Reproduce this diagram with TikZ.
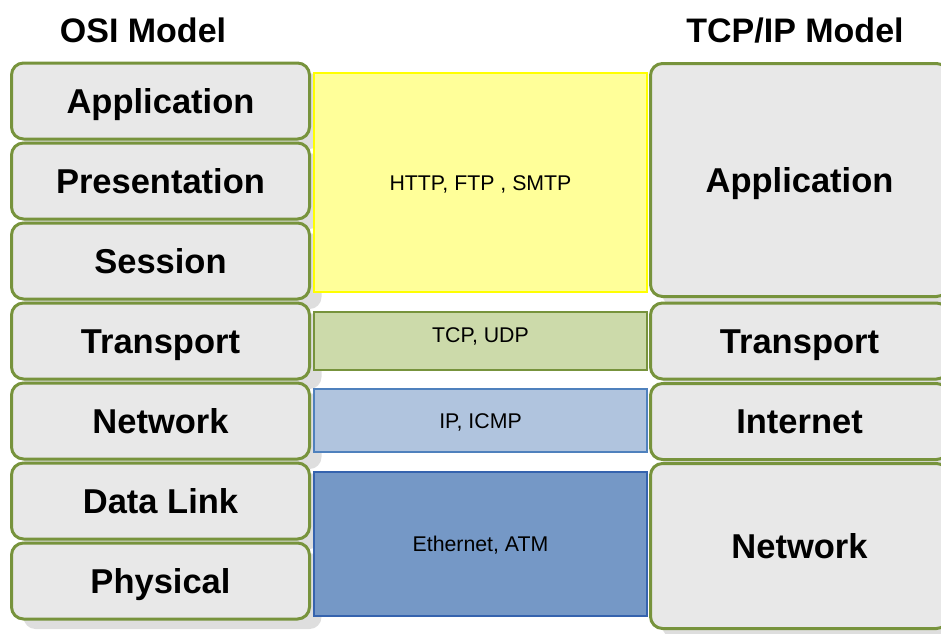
\documentclass[tikz,border=0pt]{standalone}
\usepackage{fontspec}
\setmainfont{Liberation Sans}
\usetikzlibrary{shadows}

\definecolor{layerfill}{HTML}{E8E8E8}
\definecolor{layerline}{HTML}{77933C}
\definecolor{shadowgray}{HTML}{DEDEDE}
\definecolor{httpfill}{HTML}{FFFF99}
\definecolor{httpline}{HTML}{FFFF00}
\definecolor{tcpfill}{HTML}{CCDAAA}
\definecolor{tcpline}{HTML}{77933C}
\definecolor{ipfill}{HTML}{B0C4DE}
\definecolor{ipline}{HTML}{4F81BD}
\definecolor{ethfill}{HTML}{7598C6}
\definecolor{ethline}{HTML}{3563AE}

\tikzset{
  layer/.style={draw=layerline, line width=1.5pt, fill=layerfill, rounded corners=6pt,
    minimum width=149pt, inner sep=0pt, text height=12.4pt, text depth=0pt,
    font=\bfseries\fontsize{17.25}{20}\selectfont},
  layershadow/.style={drop shadow={shadow xshift=6pt, shadow yshift=-5pt, fill=shadowgray, opacity=1}},
  proto/.style={line width=1pt, minimum width=166.5pt, inner sep=0pt,
    text height=7.6pt, text depth=0pt, font=\fontsize{10.65}{12}\selectfont},
  modeltitle/.style={inner sep=0pt, text height=12.2pt, text depth=0pt,
    font=\bfseries\fontsize{17}{20}\selectfont}
}

\begin{document}
\begin{tikzpicture}[x=0.5pt, y=-0.5pt]
  \clip (0,0) rectangle (941,633);

  % titles
  \node[modeltitle] (osititle) at (143,30) {OSI Model};
  \node[modeltitle] (tcpiptitle) at (795,30) {TCP/IP Model};

  % OSI stack, seven layers
  \foreach \name [count=\i from 0] in {Application,Presentation,Session,Transport,Network,Data Link,Physical}
    \node[layer, layershadow, minimum height=38pt] (osi\i) at (160.5,{101+80*\i}) {\name};

  % protocols in between
  \node[proto, draw=httpline, fill=httpfill, minimum height=109.5pt] (http) at (480.5,182.5) {HTTP, FTP , SMTP};
  \node[proto, draw=tcpline, fill=tcpfill, minimum height=29pt, text depth=6pt] (tcp) at (480.5,341) {TCP, UDP};
  \node[proto, draw=ipline, fill=ipfill, minimum height=31.5pt] (ip) at (480.5,420.5) {IP, ICMP};
  \node[proto, draw=ethline, fill=ethfill, minimum height=72pt] (eth) at (480.5,544) {Ethernet, ATM};

  % TCP/IP stack
  \node[layer, layershadow, minimum height=116.5pt] (tcpapp) at (799.5,180) {Application};
  \node[layer, layershadow, minimum height=38pt] (tcptrans) at (799.5,341) {Transport};
  \node[layer, layershadow, minimum height=38pt] (tcpinet) at (799.5,421.5) {Internet};
  \node[layer, layershadow, minimum height=82.5pt] (tcpnet) at (799.5,546) {Network};
\end{tikzpicture}
\end{document}
